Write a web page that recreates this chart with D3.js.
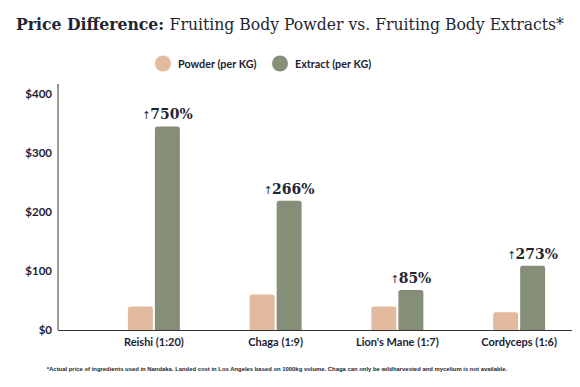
<!DOCTYPE html>
<html><head><meta charset="utf-8">
<script src="https://cdn.jsdelivr.net/npm/d3@7/dist/d3.min.js"></script>
<style>body{margin:0;background:#fff}</style>
</head><body>
<script>
const categories = ["Reishi (1:20)", "Chaga (1:9)", "Lion's Mane (1:7)", "Cordyceps (1:6)"];
const powder = [40, 60, 40, 30];
const extract = [345, 219, 68, 109];
const increases = ["750%", "266%", "85%", "273%"];
const seriesNames = ["Powder (per KG)", "Extract (per KG)"];
const yTicks = [0, 100, 200, 300, 400];

const W = 580, H = 387;
const colors = ["#e2bb9e", "#858f78"];
const svg = d3.select("body").append("svg").attr("width", W).attr("height", H);

const serif = "'DejaVu Serif Condensed', 'DejaVu Serif', serif";

// Title
const title = svg.append("text").attr("x", 290).attr("y", 30).attr("text-anchor", "middle")
  .attr("font-family", serif).style("font-stretch", "condensed").attr("font-size", 17.4).attr("fill", "#1f2630");
title.append("tspan").attr("font-weight", "bold").text("Price Difference: ");
title.append("tspan").text("Fruiting Body Powder vs. Fruiting Body Extracts*");

// Legend
const legendX = [163, 280];
seriesNames.forEach((n, i) => {
  svg.append("circle").attr("cx", legendX[i]).attr("cy", 63.5).attr("r", 8).attr("fill", colors[i]);
  svg.append("text").attr("x", legendX[i] + 15).attr("y", 67.5).attr("font-family", "Lato")
    .attr("font-size", 10.8).attr("font-weight", "bold").attr("fill", "#1d1d2e").text(n);
});

const y = d3.scaleLinear().domain([0, 400]).range([330, 94]);
const x = d3.scaleBand().domain(categories).range([93, 580]).padding(0);
const barW = 25, gap = 2;

// Axes
const yAxis = d3.axisLeft(y).tickValues(yTicks).tickFormat(d => "$" + d).tickSize(0).tickPadding(6);
const gy = svg.append("g").attr("transform", "translate(58,0)").call(yAxis);
gy.select(".domain").remove();
gy.selectAll("text").attr("font-family", "Lato").attr("font-weight", "bold").attr("font-size", 11.5).attr("fill", "#1d1d35");
svg.append("line").attr("x1", 58).attr("x2", 58).attr("y1", 84).attr("y2", 330).attr("stroke", "#333").attr("stroke-width", 1);

const xAxis = d3.axisBottom(x).tickSize(0).tickPadding(8);
const gx = svg.append("g").attr("transform", "translate(0,330)").call(xAxis);
gx.select(".domain").remove();
gx.selectAll("text").attr("font-family", "Lato").attr("font-weight", "bold").attr("font-size", 11).attr("fill", "#1d1d35");

function topRounded(x0, y0, w, h, r) {
  return `M${x0},${y0+h}V${y0+r}Q${x0},${y0} ${x0+r},${y0}H${x0+w-r}Q${x0+w},${y0} ${x0+w},${y0+r}V${y0+h}Z`;
}

const g = svg.append("g");
categories.forEach((c, i) => {
  const cx = x(c) + x.bandwidth()/2;
  const vals = [powder[i], extract[i]];
  vals.forEach((v, j) => {
    const x0 = j === 0 ? cx - gap/2 - barW : cx + gap/2;
    g.append("path").attr("d", topRounded(x0, y(v), barW, y(0) - y(v), 2.5)).attr("fill", colors[j]);
  });
  const ex = cx + gap/2 + barW/2;
  const t = svg.append("text").attr("x", ex).attr("y", y(extract[i]) - 7).attr("text-anchor", "middle")
    .attr("font-family", serif).style("font-stretch", "condensed").attr("font-weight", "bold").attr("font-size", 15.5).attr("fill", "#1f2630");
  t.append("tspan").attr("font-family", "DejaVu Sans").attr("font-weight", "normal").attr("font-size", 11).text("↑");
  t.append("tspan").text(increases[i]);
});

svg.append("line").attr("x1", 58).attr("x2", 572).attr("y1", 330.5).attr("y2", 330.5).attr("stroke", "#333").attr("stroke-width", 1);

svg.append("text").attr("x", 277).attr("y", 371).attr("text-anchor", "middle").attr("font-family", "Liberation Sans")
  .attr("font-size", 5.9).attr("font-weight", "bold").attr("fill", "#1d1d2e")
  .text("*Actual price of ingredients used in Nandaka. Landed cost in Los Angeles based on 1000kg volume. Chaga can only be wildharvested and mycelium is not available.");
</script>
</body></html>
